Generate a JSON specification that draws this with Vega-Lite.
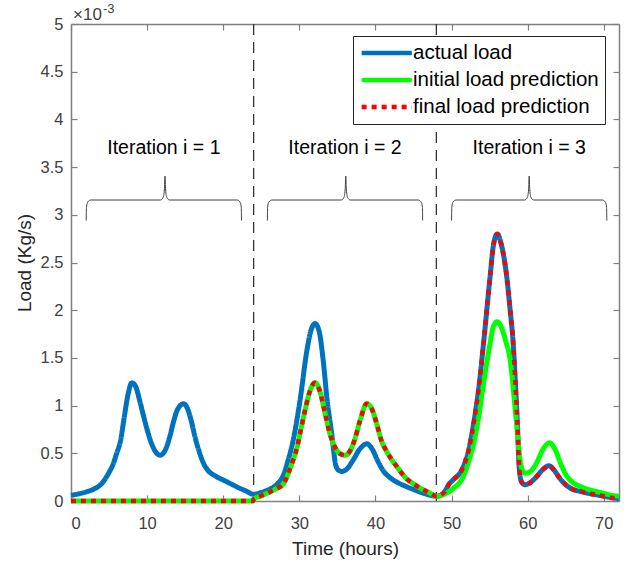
{
  "$schema": "https://vega.github.io/schema/vega-lite/v6.json",
  "width": 548,
  "height": 477,
  "autosize": {"type": "none"},
  "padding": {"left": 71, "top": 24, "right": 13, "bottom": 62},
  "background": "white",
  "config": {
    "view": {"stroke": null},
    "font": "Liberation Sans",
    "axis": {
      "grid": false,
      "domainColor": "#808080",
      "domainWidth": 1.5,
      "tickColor": "#808080",
      "tickWidth": 1.2,
      "tickSize": -6,
      "labelFont": "Liberation Sans",
      "labelFontSize": 16.5,
      "labelColor": "#404040",
      "titleFont": "Liberation Sans",
      "titleFontSize": 19,
      "titleFontWeight": "normal",
      "titleColor": "#262626"
    },
    "legend": {
      "orient": "none",
      "legendX": 282,
      "legendY": 12,
      "symbolType": "M-1,0H5",
      "symbolSize": 280,
      "symbolStrokeWidth": 4.5,
      "symbolFillColor": "transparent",
      "labelFont": "Liberation Sans",
      "labelFontSize": 20.5,
      "labelColor": "#000000",
      "labelOffset": 32,
      "labelLimit": 400,
      "padding": 6,
      "rowPadding": 5,
      "strokeColor": "#262626",
      "fillColor": "white"
    }
  },
  "datasets": {
    "splits": [{"t": 24}, {"t": 48}],
    "labels": [
      {"t": 12.2, "v": 3.7, "label": "Iteration i = 1"},
      {"t": 36.0, "v": 3.7, "label": "Iteration i = 2"},
      {"t": 60.2, "v": 3.7, "label": "Iteration i = 3"}
    ],
    "braces": [
      {"b": 1, "t": 2.0, "v": 2.94}, {"b": 1, "t": 2.03, "v": 3.08}, {"b": 1, "t": 2.2, "v": 3.135}, {"b": 1, "t": 2.6, "v": 3.155},
      {"b": 1, "t": 11.75, "v": 3.155}, {"b": 1, "t": 12.1, "v": 3.18}, {"b": 1, "t": 12.27, "v": 3.26}, {"b": 1, "t": 12.35, "v": 3.407},
      {"b": 1, "t": 12.43, "v": 3.26}, {"b": 1, "t": 12.6, "v": 3.18}, {"b": 1, "t": 12.95, "v": 3.155}, {"b": 1, "t": 21.8, "v": 3.155},
      {"b": 1, "t": 22.2, "v": 3.135}, {"b": 1, "t": 22.37, "v": 3.08}, {"b": 1, "t": 22.4, "v": 2.94},
      {"b": 2, "t": 25.8, "v": 2.94}, {"b": 2, "t": 25.83, "v": 3.08}, {"b": 2, "t": 26.0, "v": 3.135}, {"b": 2, "t": 26.4, "v": 3.155},
      {"b": 2, "t": 35.5, "v": 3.155}, {"b": 2, "t": 35.85, "v": 3.18}, {"b": 2, "t": 36.02, "v": 3.26}, {"b": 2, "t": 36.1, "v": 3.407},
      {"b": 2, "t": 36.18, "v": 3.26}, {"b": 2, "t": 36.35, "v": 3.18}, {"b": 2, "t": 36.7, "v": 3.155}, {"b": 2, "t": 45.6, "v": 3.155},
      {"b": 2, "t": 46.0, "v": 3.135}, {"b": 2, "t": 46.17, "v": 3.08}, {"b": 2, "t": 46.2, "v": 2.94},
      {"b": 3, "t": 50.0, "v": 2.94}, {"b": 3, "t": 50.03, "v": 3.08}, {"b": 3, "t": 50.2, "v": 3.135}, {"b": 3, "t": 50.6, "v": 3.155},
      {"b": 3, "t": 59.6, "v": 3.155}, {"b": 3, "t": 59.95, "v": 3.18}, {"b": 3, "t": 60.12, "v": 3.26}, {"b": 3, "t": 60.2, "v": 3.407},
      {"b": 3, "t": 60.28, "v": 3.26}, {"b": 3, "t": 60.45, "v": 3.18}, {"b": 3, "t": 60.8, "v": 3.155}, {"b": 3, "t": 69.8, "v": 3.155},
      {"b": 3, "t": 70.2, "v": 3.135}, {"b": 3, "t": 70.37, "v": 3.08}, {"b": 3, "t": 70.4, "v": 2.94}
    ],
    "load": [
      {"s": "actual load", "t": 0, "v": 0.06}, {"s": "actual load", "t": 1, "v": 0.075}, {"s": "actual load", "t": 2, "v": 0.095},
      {"s": "actual load", "t": 3, "v": 0.125}, {"s": "actual load", "t": 4, "v": 0.18}, {"s": "actual load", "t": 5, "v": 0.3},
      {"s": "actual load", "t": 5.5, "v": 0.38}, {"s": "actual load", "t": 6, "v": 0.5}, {"s": "actual load", "t": 6.5, "v": 0.63},
      {"s": "actual load", "t": 7, "v": 0.88}, {"s": "actual load", "t": 7.5, "v": 1.12}, {"s": "actual load", "t": 8, "v": 1.24},
      {"s": "actual load", "t": 8.5, "v": 1.2}, {"s": "actual load", "t": 9, "v": 1.06}, {"s": "actual load", "t": 9.5, "v": 0.9},
      {"s": "actual load", "t": 10, "v": 0.75}, {"s": "actual load", "t": 10.5, "v": 0.62}, {"s": "actual load", "t": 11, "v": 0.53},
      {"s": "actual load", "t": 11.7, "v": 0.48}, {"s": "actual load", "t": 12.3, "v": 0.52}, {"s": "actual load", "t": 13, "v": 0.68},
      {"s": "actual load", "t": 13.5, "v": 0.84}, {"s": "actual load", "t": 14, "v": 0.96}, {"s": "actual load", "t": 14.8, "v": 1.02},
      {"s": "actual load", "t": 15.3, "v": 0.97}, {"s": "actual load", "t": 15.8, "v": 0.84}, {"s": "actual load", "t": 16.3, "v": 0.67},
      {"s": "actual load", "t": 17, "v": 0.48}, {"s": "actual load", "t": 17.5, "v": 0.38}, {"s": "actual load", "t": 18, "v": 0.32},
      {"s": "actual load", "t": 19, "v": 0.26}, {"s": "actual load", "t": 20, "v": 0.22}, {"s": "actual load", "t": 21, "v": 0.18},
      {"s": "actual load", "t": 22, "v": 0.14}, {"s": "actual load", "t": 23, "v": 0.105}, {"s": "actual load", "t": 24, "v": 0.07},
      {"s": "actual load", "t": 25, "v": 0.09}, {"s": "actual load", "t": 26, "v": 0.12}, {"s": "actual load", "t": 27, "v": 0.17},
      {"s": "actual load", "t": 27.9, "v": 0.27}, {"s": "actual load", "t": 28.5, "v": 0.42}, {"s": "actual load", "t": 29.2, "v": 0.64},
      {"s": "actual load", "t": 30.1, "v": 1.06}, {"s": "actual load", "t": 31, "v": 1.58}, {"s": "actual load", "t": 31.5, "v": 1.78},
      {"s": "actual load", "t": 32.06, "v": 1.86}, {"s": "actual load", "t": 32.6, "v": 1.78}, {"s": "actual load", "t": 33.1, "v": 1.5},
      {"s": "actual load", "t": 33.65, "v": 1.06}, {"s": "actual load", "t": 34.25, "v": 0.71}, {"s": "actual load", "t": 34.8, "v": 0.37},
      {"s": "actual load", "t": 35.2, "v": 0.32}, {"s": "actual load", "t": 35.6, "v": 0.31}, {"s": "actual load", "t": 36.3, "v": 0.34},
      {"s": "actual load", "t": 37, "v": 0.42}, {"s": "actual load", "t": 38, "v": 0.55}, {"s": "actual load", "t": 38.86, "v": 0.6},
      {"s": "actual load", "t": 39.6, "v": 0.54}, {"s": "actual load", "t": 40.3, "v": 0.42}, {"s": "actual load", "t": 41, "v": 0.32},
      {"s": "actual load", "t": 42, "v": 0.24}, {"s": "actual load", "t": 43, "v": 0.19}, {"s": "actual load", "t": 44.1, "v": 0.15},
      {"s": "actual load", "t": 45, "v": 0.12}, {"s": "actual load", "t": 46, "v": 0.09}, {"s": "actual load", "t": 47, "v": 0.065},
      {"s": "actual load", "t": 48, "v": 0.05}, {"s": "actual load", "t": 48.9, "v": 0.08}, {"s": "actual load", "t": 49.8, "v": 0.19},
      {"s": "actual load", "t": 50.2, "v": 0.22}, {"s": "actual load", "t": 51.55, "v": 0.36}, {"s": "actual load", "t": 52.3, "v": 0.55},
      {"s": "actual load", "t": 52.9, "v": 0.81}, {"s": "actual load", "t": 53.6, "v": 1.2}, {"s": "actual load", "t": 54.2, "v": 1.65},
      {"s": "actual load", "t": 55.06, "v": 2.35}, {"s": "actual load", "t": 55.5, "v": 2.68}, {"s": "actual load", "t": 56, "v": 2.8},
      {"s": "actual load", "t": 56.5, "v": 2.7}, {"s": "actual load", "t": 57.25, "v": 2.35}, {"s": "actual load", "t": 57.7, "v": 2.0},
      {"s": "actual load", "t": 58.1, "v": 1.65}, {"s": "actual load", "t": 58.4, "v": 1.22}, {"s": "actual load", "t": 58.65, "v": 0.81},
      {"s": "actual load", "t": 58.9, "v": 0.34}, {"s": "actual load", "t": 59.2, "v": 0.2}, {"s": "actual load", "t": 59.66, "v": 0.17},
      {"s": "actual load", "t": 60.3, "v": 0.19}, {"s": "actual load", "t": 61, "v": 0.24}, {"s": "actual load", "t": 62, "v": 0.33},
      {"s": "actual load", "t": 62.8, "v": 0.37}, {"s": "actual load", "t": 63.5, "v": 0.32}, {"s": "actual load", "t": 64.2, "v": 0.24},
      {"s": "actual load", "t": 65, "v": 0.17}, {"s": "actual load", "t": 66, "v": 0.12}, {"s": "actual load", "t": 67, "v": 0.1},
      {"s": "actual load", "t": 68, "v": 0.08}, {"s": "actual load", "t": 69, "v": 0.065}, {"s": "actual load", "t": 70, "v": 0.05},
      {"s": "actual load", "t": 71, "v": 0.035}, {"s": "actual load", "t": 72, "v": 0.025},

      {"s": "initial load prediction", "t": 0, "v": 0}, {"s": "initial load prediction", "t": 12, "v": 0}, {"s": "initial load prediction", "t": 23.9, "v": 0},
      {"s": "initial load prediction", "t": 24, "v": 0.02}, {"s": "initial load prediction", "t": 25, "v": 0.055}, {"s": "initial load prediction", "t": 26, "v": 0.09},
      {"s": "initial load prediction", "t": 27, "v": 0.13}, {"s": "initial load prediction", "t": 27.9, "v": 0.18}, {"s": "initial load prediction", "t": 28.5, "v": 0.28},
      {"s": "initial load prediction", "t": 29, "v": 0.39}, {"s": "initial load prediction", "t": 29.66, "v": 0.55}, {"s": "initial load prediction", "t": 30.2, "v": 0.75},
      {"s": "initial load prediction", "t": 30.75, "v": 0.95}, {"s": "initial load prediction", "t": 31.3, "v": 1.13}, {"s": "initial load prediction", "t": 32.06, "v": 1.24},
      {"s": "initial load prediction", "t": 32.7, "v": 1.15}, {"s": "initial load prediction", "t": 33.3, "v": 0.95}, {"s": "initial load prediction", "t": 34, "v": 0.71},
      {"s": "initial load prediction", "t": 34.7, "v": 0.56}, {"s": "initial load prediction", "t": 35.3, "v": 0.5}, {"s": "initial load prediction", "t": 36, "v": 0.48},
      {"s": "initial load prediction", "t": 36.7, "v": 0.53}, {"s": "initial load prediction", "t": 37.3, "v": 0.65}, {"s": "initial load prediction", "t": 38, "v": 0.85},
      {"s": "initial load prediction", "t": 38.86, "v": 1.02}, {"s": "initial load prediction", "t": 39.5, "v": 0.97}, {"s": "initial load prediction", "t": 40.2, "v": 0.8},
      {"s": "initial load prediction", "t": 40.8, "v": 0.63}, {"s": "initial load prediction", "t": 41.4, "v": 0.53}, {"s": "initial load prediction", "t": 42, "v": 0.45},
      {"s": "initial load prediction", "t": 43, "v": 0.34}, {"s": "initial load prediction", "t": 44, "v": 0.24}, {"s": "initial load prediction", "t": 45, "v": 0.18},
      {"s": "initial load prediction", "t": 46, "v": 0.13}, {"s": "initial load prediction", "t": 47, "v": 0.09}, {"s": "initial load prediction", "t": 48, "v": 0.05},
      {"s": "initial load prediction", "t": 49, "v": 0.07}, {"s": "initial load prediction", "t": 50.2, "v": 0.13}, {"s": "initial load prediction", "t": 51.5, "v": 0.25},
      {"s": "initial load prediction", "t": 52.2, "v": 0.4}, {"s": "initial load prediction", "t": 52.9, "v": 0.6}, {"s": "initial load prediction", "t": 53.6, "v": 0.9},
      {"s": "initial load prediction", "t": 54.2, "v": 1.23}, {"s": "initial load prediction", "t": 55.06, "v": 1.65}, {"s": "initial load prediction", "t": 55.5, "v": 1.83},
      {"s": "initial load prediction", "t": 56, "v": 1.88}, {"s": "initial load prediction", "t": 56.5, "v": 1.83}, {"s": "initial load prediction", "t": 57.1, "v": 1.68},
      {"s": "initial load prediction", "t": 57.7, "v": 1.48}, {"s": "initial load prediction", "t": 58.2, "v": 1.1}, {"s": "initial load prediction", "t": 58.57, "v": 0.78},
      {"s": "initial load prediction", "t": 58.9, "v": 0.5}, {"s": "initial load prediction", "t": 59.2, "v": 0.35}, {"s": "initial load prediction", "t": 59.7, "v": 0.29},
      {"s": "initial load prediction", "t": 60.5, "v": 0.32}, {"s": "initial load prediction", "t": 61.3, "v": 0.42}, {"s": "initial load prediction", "t": 62, "v": 0.54},
      {"s": "initial load prediction", "t": 62.9, "v": 0.61}, {"s": "initial load prediction", "t": 63.6, "v": 0.54}, {"s": "initial load prediction", "t": 64.3, "v": 0.4},
      {"s": "initial load prediction", "t": 65, "v": 0.28}, {"s": "initial load prediction", "t": 66, "v": 0.19}, {"s": "initial load prediction", "t": 67, "v": 0.15},
      {"s": "initial load prediction", "t": 68, "v": 0.12}, {"s": "initial load prediction", "t": 69, "v": 0.1}, {"s": "initial load prediction", "t": 70, "v": 0.08},
      {"s": "initial load prediction", "t": 71, "v": 0.06}, {"s": "initial load prediction", "t": 72, "v": 0.05},

      {"s": "final load prediction", "t": 0, "v": 0}, {"s": "final load prediction", "t": 12, "v": 0}, {"s": "final load prediction", "t": 23.9, "v": 0},
      {"s": "final load prediction", "t": 24, "v": 0.02}, {"s": "final load prediction", "t": 25, "v": 0.055}, {"s": "final load prediction", "t": 26, "v": 0.09},
      {"s": "final load prediction", "t": 27, "v": 0.13}, {"s": "final load prediction", "t": 27.9, "v": 0.18}, {"s": "final load prediction", "t": 28.5, "v": 0.28},
      {"s": "final load prediction", "t": 29, "v": 0.39}, {"s": "final load prediction", "t": 29.66, "v": 0.55}, {"s": "final load prediction", "t": 30.2, "v": 0.75},
      {"s": "final load prediction", "t": 30.75, "v": 0.95}, {"s": "final load prediction", "t": 31.3, "v": 1.13}, {"s": "final load prediction", "t": 32.06, "v": 1.24},
      {"s": "final load prediction", "t": 32.7, "v": 1.15}, {"s": "final load prediction", "t": 33.3, "v": 0.95}, {"s": "final load prediction", "t": 34, "v": 0.71},
      {"s": "final load prediction", "t": 34.7, "v": 0.56}, {"s": "final load prediction", "t": 35.3, "v": 0.5}, {"s": "final load prediction", "t": 36, "v": 0.48},
      {"s": "final load prediction", "t": 36.7, "v": 0.53}, {"s": "final load prediction", "t": 37.3, "v": 0.65}, {"s": "final load prediction", "t": 38, "v": 0.85},
      {"s": "final load prediction", "t": 38.86, "v": 1.02}, {"s": "final load prediction", "t": 39.5, "v": 0.97}, {"s": "final load prediction", "t": 40.2, "v": 0.8},
      {"s": "final load prediction", "t": 40.8, "v": 0.63}, {"s": "final load prediction", "t": 41.4, "v": 0.53}, {"s": "final load prediction", "t": 42, "v": 0.45},
      {"s": "final load prediction", "t": 43, "v": 0.34}, {"s": "final load prediction", "t": 44, "v": 0.24}, {"s": "final load prediction", "t": 45, "v": 0.18},
      {"s": "final load prediction", "t": 46, "v": 0.13}, {"s": "final load prediction", "t": 47, "v": 0.09}, {"s": "final load prediction", "t": 48, "v": 0.05},
      {"s": "final load prediction", "t": 48.9, "v": 0.08}, {"s": "final load prediction", "t": 49.8, "v": 0.19},
      {"s": "final load prediction", "t": 50.2, "v": 0.22}, {"s": "final load prediction", "t": 51.55, "v": 0.36}, {"s": "final load prediction", "t": 52.3, "v": 0.55},
      {"s": "final load prediction", "t": 52.9, "v": 0.81}, {"s": "final load prediction", "t": 53.6, "v": 1.2}, {"s": "final load prediction", "t": 54.2, "v": 1.65},
      {"s": "final load prediction", "t": 55.06, "v": 2.35}, {"s": "final load prediction", "t": 55.5, "v": 2.68}, {"s": "final load prediction", "t": 56, "v": 2.8},
      {"s": "final load prediction", "t": 56.5, "v": 2.7}, {"s": "final load prediction", "t": 57.25, "v": 2.35}, {"s": "final load prediction", "t": 57.7, "v": 2.0},
      {"s": "final load prediction", "t": 58.1, "v": 1.65}, {"s": "final load prediction", "t": 58.4, "v": 1.22}, {"s": "final load prediction", "t": 58.65, "v": 0.81},
      {"s": "final load prediction", "t": 58.9, "v": 0.34}, {"s": "final load prediction", "t": 59.2, "v": 0.2}, {"s": "final load prediction", "t": 59.66, "v": 0.17},
      {"s": "final load prediction", "t": 60.3, "v": 0.19}, {"s": "final load prediction", "t": 61, "v": 0.24}, {"s": "final load prediction", "t": 62, "v": 0.33},
      {"s": "final load prediction", "t": 62.8, "v": 0.37}, {"s": "final load prediction", "t": 63.5, "v": 0.32}, {"s": "final load prediction", "t": 64.2, "v": 0.24},
      {"s": "final load prediction", "t": 65, "v": 0.17}, {"s": "final load prediction", "t": 66, "v": 0.12}, {"s": "final load prediction", "t": 67, "v": 0.1},
      {"s": "final load prediction", "t": 68, "v": 0.08}, {"s": "final load prediction", "t": 69, "v": 0.065}, {"s": "final load prediction", "t": 70, "v": 0.05},
      {"s": "final load prediction", "t": 71, "v": 0.035}, {"s": "final load prediction", "t": 72, "v": 0.025}
    ]
  },
  "layer": [
    {
      "data": {"name": "braces"},
      "mark": {"type": "line", "color": "#404040", "strokeWidth": 1, "interpolate": "monotone"},
      "encoding": {
        "x": {"field": "t", "type": "quantitative", "scale": {"domain": [0, 72], "nice": false, "zero": false},
              "axis": {"orient": "top", "labels": false, "title": null, "values": [0, 10, 20, 30, 40, 50, 60, 70]}},
        "y": {"field": "v", "type": "quantitative", "scale": {"domain": [0, 5], "nice": false},
              "axis": {"orient": "right", "labels": false, "title": null, "values": [0, 0.5, 1, 1.5, 2, 2.5, 3, 3.5, 4, 4.5, 5]}},
        "detail": {"field": "b", "type": "nominal"}
      }
    },
    {
      "data": {"name": "splits"},
      "mark": {"type": "rule", "color": "#262626", "strokeWidth": 1.2, "strokeDash": [11, 7]},
      "encoding": {
        "x": {"field": "t", "type": "quantitative", "axis": null}
      }
    },
    {
      "data": {"name": "load"},
      "transform": [{"filter": "datum.s === 'actual load'"}],
      "mark": {"type": "line", "strokeWidth": 5, "interpolate": "monotone", "strokeCap": "butt"},
      "encoding": {
        "x": {"field": "t", "type": "quantitative",
              "axis": {"orient": "bottom", "title": "Time (hours)", "values": [0, 10, 20, 30, 40, 50, 60, 70], "labelPadding": 20, "titlePadding": 8}},
        "y": {"field": "v", "type": "quantitative",
              "axis": {"orient": "left", "title": "Load (Kg/s)", "values": [0, 0.5, 1, 1.5, 2, 2.5, 3, 3.5, 4, 4.5, 5], "format": "~g", "labelPadding": 14, "titlePadding": 6}},
        "color": {"field": "s", "type": "nominal",
                  "scale": {"domain": ["actual load", "initial load prediction", "final load prediction"], "range": ["#0072BD", "#00FF00", "#FF0000"]},
                  "legend": {"title": null}},
        "strokeDash": {"field": "s", "type": "nominal",
                  "scale": {"domain": ["actual load", "initial load prediction", "final load prediction"], "range": [[1, 0], [1, 0], [5, 5]]},
                  "legend": {"title": null}}
      }
    },
    {
      "data": {"name": "load"},
      "transform": [{"filter": "datum.s === 'initial load prediction'"}],
      "mark": {"type": "line", "strokeWidth": 5, "interpolate": "monotone", "strokeCap": "butt"},
      "encoding": {
        "x": {"field": "t", "type": "quantitative", "axis": null},
        "y": {"field": "v", "type": "quantitative", "axis": null},
        "color": {"field": "s", "type": "nominal", "legend": {"title": null}},
        "strokeDash": {"field": "s", "type": "nominal", "legend": {"title": null}}
      }
    },
    {
      "data": {"name": "load"},
      "transform": [{"filter": "datum.s === 'final load prediction'"}],
      "mark": {"type": "line", "strokeWidth": 4.5, "interpolate": "monotone", "strokeCap": "butt"},
      "encoding": {
        "x": {"field": "t", "type": "quantitative", "axis": null},
        "y": {"field": "v", "type": "quantitative", "axis": null},
        "color": {"field": "s", "type": "nominal", "legend": {"title": null}},
        "strokeDash": {"field": "s", "type": "nominal", "legend": {"title": null}}
      }
    },
    {
      "data": {"name": "labels"},
      "mark": {"type": "text", "font": "Liberation Sans", "fontSize": 19.5, "color": "#000000", "align": "center", "baseline": "middle"},
      "encoding": {
        "x": {"field": "t", "type": "quantitative", "axis": null},
        "y": {"field": "v", "type": "quantitative", "axis": null},
        "text": {"field": "label"}
      }
    },
    {
      "data": {"values": [{"t": 0, "v": 5, "txt": "×10"}]},
      "mark": {"type": "text", "font": "Liberation Sans", "fontSize": 17, "color": "#404040", "align": "left", "baseline": "alphabetic", "dx": 2, "dy": -4},
      "encoding": {
        "x": {"field": "t", "type": "quantitative", "axis": null},
        "y": {"field": "v", "type": "quantitative", "axis": null},
        "text": {"field": "txt"}
      }
    },
    {
      "data": {"values": [{"t": 0, "v": 5, "txt": "-3"}]},
      "mark": {"type": "text", "font": "Liberation Sans", "fontSize": 13, "color": "#404040", "align": "left", "baseline": "alphabetic", "dx": 32, "dy": -11},
      "encoding": {
        "x": {"field": "t", "type": "quantitative", "axis": null},
        "y": {"field": "v", "type": "quantitative", "axis": null},
        "text": {"field": "txt"}
      }
    }
  ],
  "resolve": {"axis": {"x": "independent", "y": "independent"}}
}
